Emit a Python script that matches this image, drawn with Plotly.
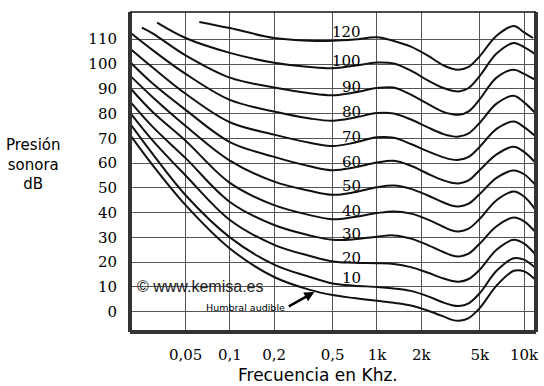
import math
import plotly.graph_objects as go

# ---------------- data ----------------
freq_khz = [0.0212, 0.03, 0.05, 0.1, 0.2, 0.35, 0.5, 0.7, 1.0, 1.3, 1.7, 2.2, 2.8, 3.2, 3.6, 4.2,
            5.0, 6.5, 8.5, 10.0, 12.0]

db_120 = [None, None, None, 114.5, 110.5, 109.4, 109.4, 109.9, 110.8, 109.3, 107.0, 103.5, 99.6, 98.2, 97.7, 98.8,
          103.2, 111.4, 115.3, 112.8, None]
db_100 = [None, None, 110.5, 104.5, 100.5, 98.8, 98.3, 99.3, 100.6, 100.2, 97.3, 93.5, 90.4, 89.3, 88.9, 90.3,
          95.2, 104.2, 108.5, 106.8, 103.8]
db_90 = [None, 112.3, 103.5, 94.5, 90.5, 88.2, 87.4, 88.5, 90.3, 90.5, 87.6, 84.0, 80.8, 79.8, 79.5, 80.9,
         85.8, 94.5, 97.7, 96.0, 93.5]
db_80 = [112.5, 105.5, 96.0, 85.5, 80.8, 78.0, 77.1, 78.3, 80.2, 80.0, 77.6, 74.5, 71.8, 70.9, 70.7, 72.0,
         76.3, 84.0, 87.2, 84.5, 80.0]
db_70 = [106.0, 98.5, 88.0, 76.5, 71.5, 68.2, 66.9, 68.2, 70.4, 70.2, 67.7, 64.8, 62.4, 61.5, 61.3, 62.5,
         66.6, 73.8, 76.8, 74.5, 70.7]
db_60 = [100.5, 92.0, 81.5, 68.5, 62.5, 58.7, 57.1, 58.2, 60.2, 60.9, 58.9, 55.8, 53.1, 52.1, 51.8, 53.0,
         57.2, 63.5, 66.6, 64.5, 60.0]
db_50 = [95.0, 86.5, 75.0, 61.0, 52.5, 48.8, 47.2, 48.2, 50.2, 50.9, 49.6, 47.0, 44.2, 42.9, 42.5, 43.6,
         47.5, 54.0, 57.0, 55.5, 51.0]
db_40 = [90.0, 80.5, 69.0, 52.0, 43.0, 39.0, 37.3, 38.2, 39.8, 40.5, 39.6, 37.3, 34.4, 32.9, 32.4, 33.5,
         37.5, 45.0, 48.5, 46.5, 41.0]
db_30 = [84.5, 74.5, 62.0, 44.3, 35.0, 30.8, 29.0, 29.2, 30.3, 30.8, 29.5, 27.0, 24.2, 22.8, 22.3, 23.4,
         27.5, 34.5, 38.0, 36.5, 32.0]
db_20 = [80.0, 69.0, 55.0, 37.0, 27.0, 22.5, 20.3, 19.8, 19.6, 19.3, 18.0, 15.8, 13.5, 12.5, 12.1, 13.2,
         17.0, 25.0, 29.0, 27.5, 23.0]
db_10 = [75.5, 63.5, 47.0, 30.0, 19.0, 14.0, 11.4, 10.5, 10.0, 9.4, 8.4, 6.3, 3.8, 2.7, 2.3, 3.4,
         7.5, 16.5, 21.6, 21.0, 17.5]
db_umbral = [71.0, 59.0, 43.0, 25.5, 14.0, 8.8, 6.7, 5.5, 4.4, 3.6, 2.5, 0.5, -1.8, -3.2, -3.7, -2.6,
             1.5, 10.5, 16.5, 16.3, 12.8]

curve_names = ["120", "100", "90", "80", "70", "60", "50", "40", "30", "20", "10", "Humbral audible"]
curve_values = [db_120, db_100, db_90, db_80, db_70, db_60, db_50, db_40, db_30, db_20, db_10, db_umbral]

# where curves begin / end inside the chart
start_freq = [0.062, 0.032, 0.0252, None, None, None, None, None, None, None, None, None]
start_db = [117.0, 116.7, 114.7, None, None, None, None, None, None, None, None, None]
end_freq = [11.5, None, None, None, None, None, None, None, None, None, None, None]
end_db = [110.5, None, None, None, None, None, None, None, None, None, None, None]

label_text = ["120", "100", "90", "80", "70", "60", "50", "40", "30", "20", "10"]
label_y_db = [113.0, 101.4, 90.7, 80.6, 70.5, 60.4, 50.7, 40.6, 31.3, 21.8, 13.7]

x_tickvals = [0.05, 0.1, 0.2, 0.5, 1, 2, 5, 10]
x_ticktext = ["0,05", "0,1", "0,2", "0,5", "1k", "2k", "5k", "10k"]
y_tickvals = [0, 10, 20, 30, 40, 50, 60, 70, 80, 90, 100, 110]
y_ticktext = [str(v) for v in y_tickvals]

# ---------------- figure ----------------
fig = go.Figure()
for i, vals in enumerate(curve_values):
    xs, ys = [], []
    if start_freq[i] is not None:
        xs.append(start_freq[i]); ys.append(start_db[i])
    for f, v in zip(freq_khz, vals):
        if v is None:
            continue
        if start_freq[i] is not None and f <= start_freq[i]:
            continue
        if end_freq[i] is not None and f >= end_freq[i]:
            continue
        xs.append(f); ys.append(v)
    if end_freq[i] is not None:
        xs.append(end_freq[i]); ys.append(end_db[i])
    fig.add_trace(go.Scatter(
        x=xs, y=ys, mode="lines", name=curve_names[i],
        line=dict(color="#111111", width=2, shape="spline", smoothing=1.0),
        hoverinfo="skip", showlegend=False))

L, R, T, B = 130, 5, 12, 54
W, H = 544, 386
pw = W - L - R
ph = H - T - B


def px_to_paper_x(px):
    return (px - L) / pw


def px_to_paper_y(py):
    return (H - B - py) / ph


annotations = []
label_x = math.log10(0.807)
for t, yv in zip(label_text, label_y_db):
    annotations.append(dict(
        x=label_x, y=yv, xref="x", yref="y", text=t, showarrow=False,
        xanchor="right", yanchor="middle",
        font=dict(family="DejaVu Serif", size=15, color="black")))

# watermark
annotations.append(dict(
    x=px_to_paper_x(135), y=10, xref="paper", yref="y",
    text="\u00a9 www.kemisa.es", showarrow=False, xanchor="left", yanchor="middle",
    font=dict(family="Liberation Sans", size=16, color="#222222")))

# Humbral audible label and arrow
annotations.append(dict(
    x=px_to_paper_x(288), y=px_to_paper_y(307), xref="paper", yref="paper",
    text="Humbral audible", showarrow=False, xanchor="right", yanchor="middle",
    font=dict(family="DejaVu Sans", size=9.5, color="black")))
annotations.append(dict(
    x=math.log10(0.375), y=7.9, xref="x", yref="y", text="",
    showarrow=True, ax=-27, ay=15, arrowhead=2, arrowsize=0.8,
    arrowwidth=2.5, arrowcolor="black", standoff=0))

# axis titles
annotations.append(dict(
    x=px_to_paper_x(33), y=px_to_paper_y(164), xref="paper", yref="paper",
    text="Presión<br>sonora<br>dB", showarrow=False, xanchor="center", yanchor="middle",
    align="center",
    font=dict(family="DejaVu Sans", size=15, color="black")))
annotations.append(dict(
    x=px_to_paper_x(319.5), y=px_to_paper_y(374.5), xref="paper", yref="paper",
    text="Frecuencia en Khz.", showarrow=False, xanchor="center", yanchor="middle",
    font=dict(family="DejaVu Sans", size=17, color="black")))

shapes = [
    dict(type="line", xref="paper", yref="paper", x0=0, x1=0, y0=0, y1=1,
         line=dict(color="#333333", width=4)),
    dict(type="line", xref="paper", yref="paper", x0=1, x1=1, y0=0, y1=1,
         line=dict(color="#333333", width=4)),
    dict(type="line", xref="paper", yref="paper", x0=0, x1=1, y0=0, y1=0,
         line=dict(color="#333333", width=4)),
    dict(type="line", xref="paper", yref="paper", x0=0, x1=1, y0=1, y1=1,
         line=dict(color="#111111", width=1.5)),
]

fig.update_layout(
    width=W, height=H,
    margin=dict(l=L, r=R, t=T, b=B, pad=0),
    paper_bgcolor="white", plot_bgcolor="white",
    showlegend=False,
    annotations=annotations, shapes=shapes,
    xaxis=dict(type="log", range=[-1.679, 1.081],
               tickvals=x_tickvals, ticktext=x_ticktext,
               showgrid=True, gridcolor="#555555", gridwidth=1,
               zeroline=False, showline=False, ticks="",
               ticklabelstandoff=12,
               tickfont=dict(family="DejaVu Serif", size=15, color="black")),
    yaxis=dict(range=[-8.2, 121.0],
               tickvals=y_tickvals, ticktext=y_ticktext,
               showgrid=True, gridcolor="#555555", gridwidth=1,
               zeroline=False, showline=False, ticks="",
               ticklabelstandoff=12,
               tickfont=dict(family="DejaVu Serif", size=15, color="black")),
)

fig.write_html("out.html", config={"displayModeBar": False},
               post_script="document.body.style.margin='0px';document.body.style.overflow='hidden';")
